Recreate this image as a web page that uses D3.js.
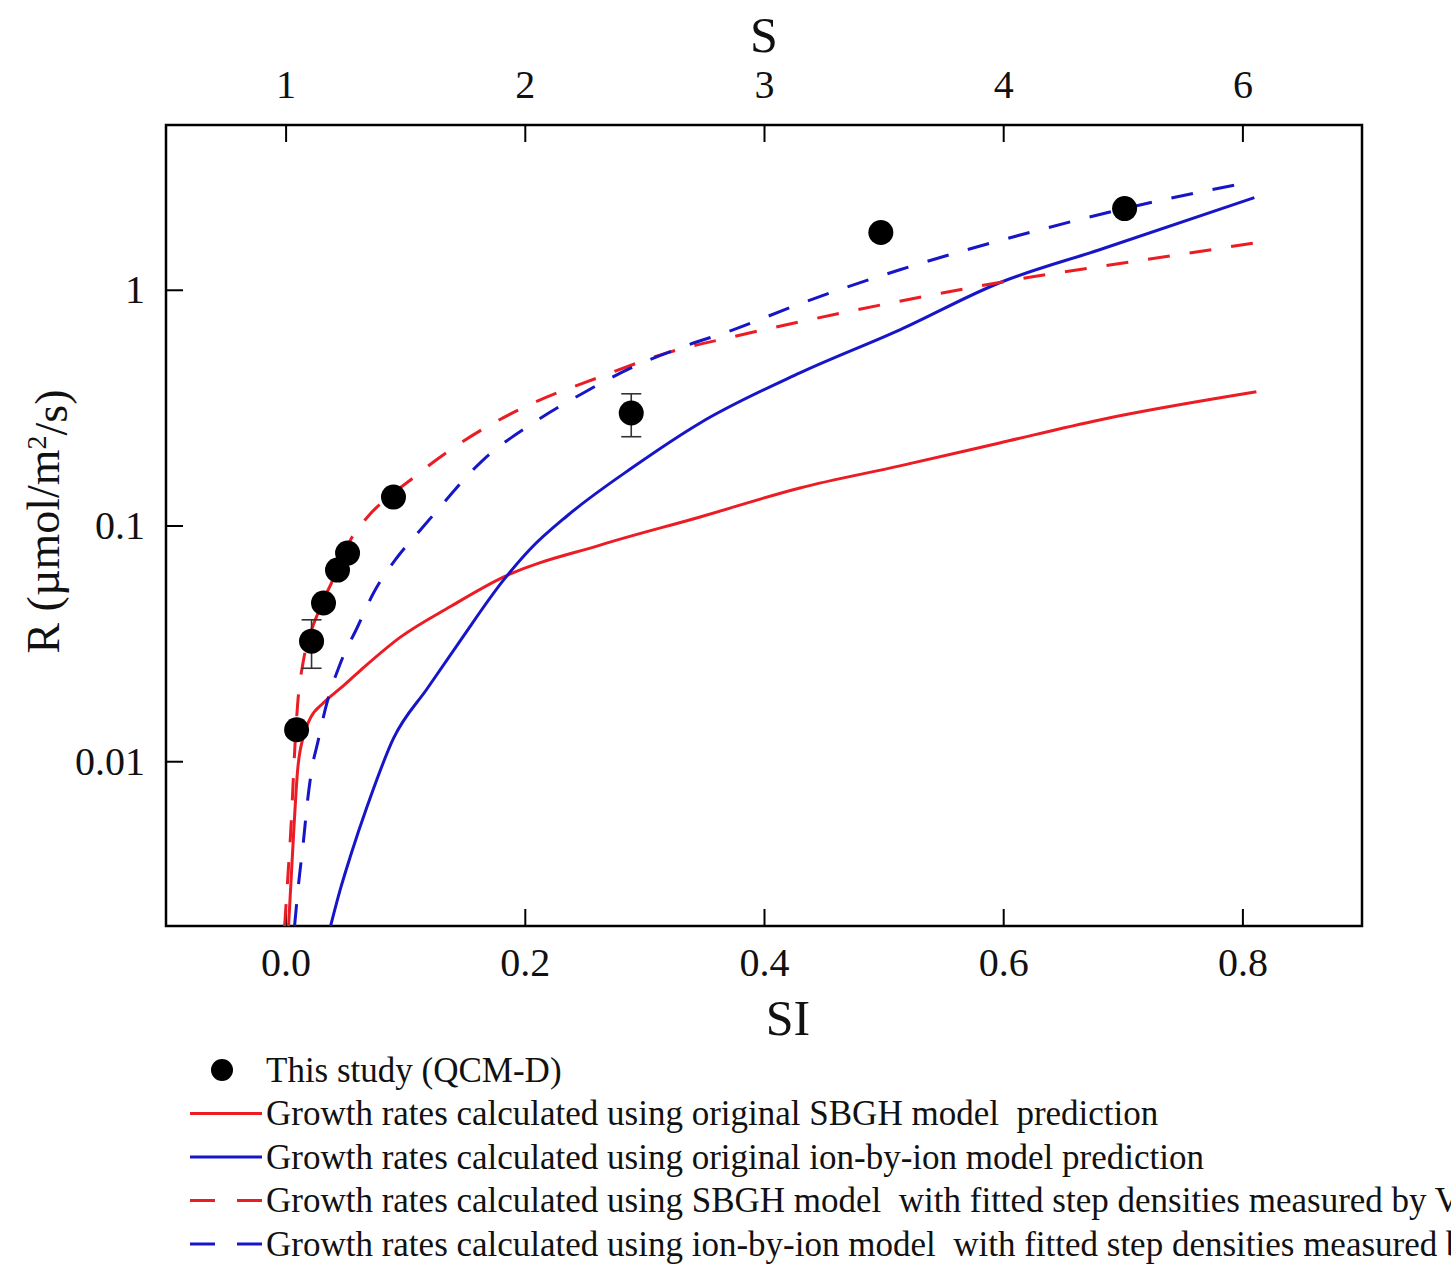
<!DOCTYPE html>
<html>
<head>
<meta charset="utf-8">
<script src="https://cdn.jsdelivr.net/npm/d3@7"></script>
<style>
  body { margin: 0; background: #fff; }
  svg { display: block; font-family: "Liberation Serif", "Times New Roman", serif; }
  .legend text { white-space: pre; }
</style>
</head>
<body>
<svg id="chart" width="1451" height="1264"></svg>
<script>
// tick values and labels
const siTicks = [0, 0.2, 0.4, 0.6, 0.8];
const sLabels = ["1", "2", "3", "4", "6"];
const rTicks = [0.01, 0.1, 1];

// measured points (QCM-D)
const studySI = [0.0092, 0.0217, 0.0317, 0.0434, 0.0518, 0.0902, 0.289, 0.4977, 0.7015];
const studyR = [0.0136, 0.0323, 0.0469, 0.0647, 0.0764, 0.132, 0.30, 1.75, 2.21];
const studyErr = [0, 0.0075, 0, 0, 0, 0, 0.062, 0, 0];

// original SBGH model
const sbghSI = [0.0025, 0.0067, 0.0100, 0.0150, 0.0209, 0.0317, 0.0459, 0.0626, 0.0960, 0.1378, 0.182, 0.263, 0.3466, 0.430, 0.5136, 0.597, 0.6806, 0.8117];
const sbghR = [0.002, 0.00494, 0.0091, 0.0128, 0.0153, 0.0177, 0.0204, 0.0243, 0.0336, 0.0453, 0.0604, 0.0826, 0.1087, 0.1443, 0.179, 0.224, 0.2805, 0.369];

// original ion-by-ion model
const ionSI = [0.0376, 0.0459, 0.0543, 0.0685, 0.0902, 0.1186, 0.1461, 0.182, 0.2046, 0.2355, 0.2906, 0.3466, 0.430, 0.5136, 0.597, 0.6806, 0.810];
const ionR = [0.002, 0.00288, 0.00397, 0.0065, 0.0125, 0.0204, 0.0325, 0.0585, 0.0795, 0.110, 0.177, 0.2723, 0.444, 0.676, 1.071, 1.479, 2.459];

// SBGH with fitted step densities
const sbghFitSI = [-0.0008, 0.0017, 0.0042, 0.0084, 0.0100, 0.0150, 0.0209, 0.0292, 0.0434, 0.0543, 0.0685, 0.0902, 0.1044, 0.1236, 0.1653, 0.2071, 0.263, 0.319, 0.374, 0.430, 0.541, 0.6246, 0.708, 0.8117];
const sbghFitR = [0.002, 0.00313, 0.00494, 0.01315, 0.0173, 0.0269, 0.035, 0.0451, 0.0647, 0.0868, 0.1087, 0.1374, 0.156, 0.186, 0.257, 0.331, 0.427, 0.540, 0.632, 0.731, 0.952, 1.136, 1.315, 1.584];

// ion-by-ion with fitted step densities
const ionFitSI = [0.0075, 0.0109, 0.0150, 0.0184, 0.0225, 0.0267, 0.0334, 0.0459, 0.0601, 0.0735, 0.0935, 0.1127, 0.1236, 0.1653, 0.2071, 0.2489, 0.2906, 0.3324, 0.3741, 0.430, 0.5136, 0.6246, 0.708, 0.8084];
const ionFitR = [0.002, 0.00303, 0.00462, 0.00683, 0.00962, 0.0119, 0.0168, 0.0261, 0.0371, 0.0517, 0.0735, 0.0957, 0.111, 0.19, 0.2723, 0.365, 0.471, 0.573, 0.676, 0.872, 1.216, 1.763, 2.251, 2.874];

const legendLabels = [
  "This study (QCM-D)",
  "Growth rates calculated using original SBGH model  prediction",
  "Growth rates calculated using original ion-by-ion model prediction",
  "Growth rates calculated using SBGH model  with fitted step densities measured by V",
  "Growth rates calculated using ion-by-ion model  with fitted step densities measured by"
];

const RED = "#ec1c24";
const BLUE = "#1616c8";

const margin = { top: 125, left: 166, right: 89, bottom: 338 };
const W = 1451, H = 1264;
const w = W - margin.left - margin.right;
const h = H - margin.top - margin.bottom;

const svg = d3.select("#chart");
const g = svg.append("g").attr("transform", `translate(${margin.left},${margin.top})`);

const x = d3.scaleLinear().domain([-0.1, 0.9]).range([0, w]);
const y = d3.scaleLog().domain([0.002, 5]).range([h, 0]);

g.append("clipPath").attr("id", "clip")
  .append("rect").attr("width", w).attr("height", h);

// axes
const bottomAxis = d3.axisBottom(x).tickValues(siTicks).tickSize(-17).tickPadding(22)
  .tickFormat(d3.format(".1f"));
const topAxis = d3.axisTop(x).tickValues(siTicks).tickSize(-17).tickPadding(27)
  .tickFormat((d, i) => sLabels[i]);
const leftAxis = d3.axisLeft(y).tickValues(rTicks).tickSize(-17).tickPadding(21)
  .tickFormat(d => String(d));

function styleAxis(sel) {
  sel.select(".domain").remove();
  sel.selectAll(".tick line").attr("stroke", "#000").attr("stroke-width", 2);
  sel.selectAll(".tick text").attr("fill", "#111").style("font-size", "40px")
    .style("font-family", "Liberation Serif, serif");
}

g.append("g").attr("transform", `translate(0,${h})`).call(bottomAxis).call(styleAxis);
g.append("g").call(topAxis).call(styleAxis);
g.append("g").call(leftAxis).call(styleAxis);

// frame
g.append("rect").attr("width", w).attr("height", h)
  .attr("fill", "none").attr("stroke", "#000").attr("stroke-width", 2.5);

// axis titles
svg.append("text").attr("x", margin.left + x(0.42)).attr("y", 1035)
  .attr("text-anchor", "middle").style("font-size", "50px").attr("fill", "#111").text("SI");
svg.append("text").attr("x", margin.left + x(0.4)).attr("y", 52)
  .attr("text-anchor", "middle").style("font-size", "50px").attr("fill", "#111").text("S");

const yTitle = svg.append("text")
  .attr("transform", `translate(59,${margin.top + h * 0.495}) rotate(-90)`)
  .attr("text-anchor", "middle").style("font-size", "46px").attr("fill", "#111");
yTitle.append("tspan").text("R (µmol/m");
yTitle.append("tspan").attr("dy", "-0.45em").style("font-size", "28px").text("2");
yTitle.append("tspan").attr("dy", "0.45em").text("/s)");

// curves
const line = d3.line()
  .x(d => x(d[0]))
  .y(d => y(d[1]))
  .curve(d3.curveMonotoneX);

const curves = [
  { si: sbghSI, r: sbghR, color: RED, dash: null },
  { si: ionSI, r: ionR, color: BLUE, dash: null },
  { si: sbghFitSI, r: sbghFitR, color: RED, dash: "22,20" },
  { si: ionFitSI, r: ionFitR, color: BLUE, dash: "22,20" }
];

const plot = g.append("g").attr("clip-path", "url(#clip)");

curves.forEach(c => {
  plot.append("path")
    .datum(c.si.map((v, i) => [v, c.r[i]]))
    .attr("d", line)
    .attr("fill", "none")
    .attr("stroke", c.color)
    .attr("stroke-width", 3)
    .attr("stroke-dasharray", c.dash);
});

// error bars
const points = studySI.map((v, i) => ({ si: v, r: studyR[i], e: studyErr[i] }));
const bars = plot.selectAll(".err").data(points.filter(p => p.e > 0)).enter().append("g")
  .attr("stroke", "#333").attr("stroke-width", 1.6);
bars.append("line")
  .attr("x1", d => x(d.si)).attr("x2", d => x(d.si))
  .attr("y1", d => y(d.r - d.e)).attr("y2", d => y(d.r + d.e));
bars.append("line")
  .attr("x1", d => x(d.si) - 10).attr("x2", d => x(d.si) + 10)
  .attr("y1", d => y(d.r - d.e)).attr("y2", d => y(d.r - d.e));
bars.append("line")
  .attr("x1", d => x(d.si) - 10).attr("x2", d => x(d.si) + 10)
  .attr("y1", d => y(d.r + d.e)).attr("y2", d => y(d.r + d.e));

plot.selectAll(".pt").data(points).enter().append("circle")
  .attr("cx", d => x(d.si)).attr("cy", d => y(d.r)).attr("r", 12.5)
  .attr("fill", "#000");

// legend
const legend = svg.append("g").attr("class", "legend");
const legendStyles = [
  { type: "dot" },
  { type: "line", color: RED, dash: null },
  { type: "line", color: BLUE, dash: null },
  { type: "line", color: RED, dash: "25,22" },
  { type: "line", color: BLUE, dash: "25,22" }
];
legendLabels.forEach((lab, i) => {
  const cy = 1070 + i * 43.5;
  const s = legendStyles[i];
  if (s.type === "dot") {
    legend.append("circle").attr("cx", 222).attr("cy", cy).attr("r", 11).attr("fill", "#000");
  } else {
    legend.append("line").attr("x1", 190).attr("x2", 262).attr("y1", cy).attr("y2", cy)
      .attr("stroke", s.color).attr("stroke-width", 3).attr("stroke-dasharray", s.dash);
  }
  legend.append("text").attr("x", 266).attr("y", cy).attr("dy", "0.33em")
    .style("font-size", "35px").attr("fill", "#111").text(lab);
});
</script>
</body>
</html>
